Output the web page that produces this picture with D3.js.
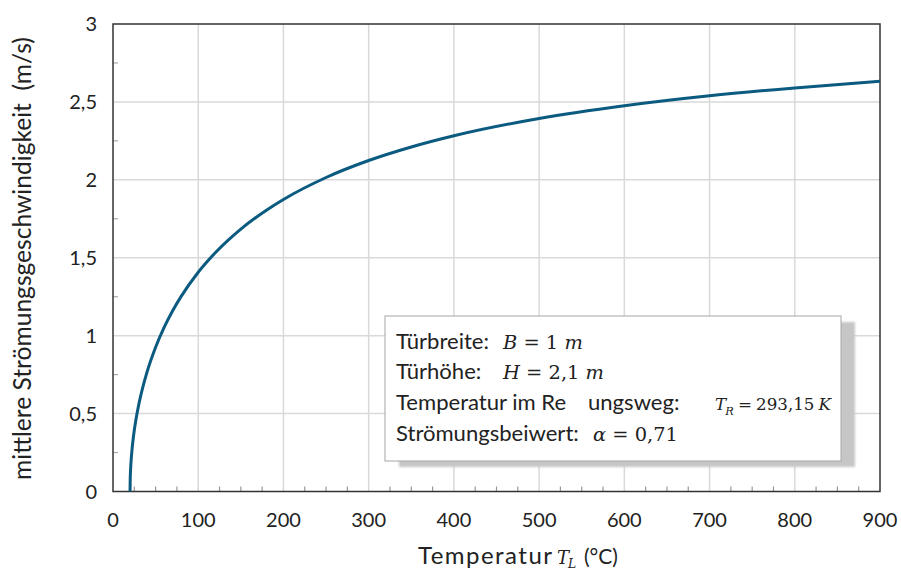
<!DOCTYPE html>
<html><head><meta charset="utf-8">
<script src="https://cdn.jsdelivr.net/npm/d3@7"></script>
<style>body{margin:0;background:#fff}</style>
</head><body>
<svg id="c" width="901" height="572"></svg>
<script>
const temps = [20, 20.2, 20.5, 21, 22, 24, 27, 30, 35, 40, 50, 60, 70, 80, 100, 120, 150, 180, 200, 250, 300, 350, 400, 500, 600, 700, 800, 900];
const speeds = [0, 0.079, 0.125, 0.177, 0.250, 0.353, 0.464, 0.552, 0.670, 0.768, 0.926, 1.053, 1.160, 1.252, 1.407, 1.532, 1.684, 1.805, 1.874, 2.015, 2.124, 2.211, 2.283, 2.394, 2.476, 2.540, 2.590, 2.632];
const xTicks = [0, 100, 200, 300, 400, 500, 600, 700, 800, 900];
const yTicks = [0, 0.5, 1, 1.5, 2, 2.5, 3];
const yTickLabels = ["0", "0,5", "1", "1,5", "2", "2,5", "3"];
const boxLines = ["Türbreite:", "Türhöhe:", "Temperatur im Re", "Strömungsbeiwert:"];

const svg = d3.select("#c");
const L = 113, R = 880, T = 24, B = 491.5;
const x = d3.scaleLinear().domain([0, 900]).range([L, R]);
const y = d3.scaleLinear().domain([0, 3]).range([B, T]);
const font = "Lato, 'Open Sans', sans-serif";
const mfont = "'DejaVu Serif', 'Liberation Serif', serif";

function fitSize(txt, family, style, target) {
  const t = svg.append("text").attr("font-family", family).attr("font-style", style)
    .attr("font-size", 100).attr("xml:space", "preserve").text(txt);
  const w = t.node().getComputedTextLength();
  t.remove();
  return 100 * target / w;
}

// grid
svg.append("g").selectAll("line").data(xTicks.slice(1, -1)).join("line")
  .attr("x1", d => x(d)).attr("x2", d => x(d)).attr("y1", T).attr("y2", B)
  .attr("stroke", "#d9d9d9").attr("stroke-width", 1.5);
svg.append("g").selectAll("line").data(yTicks.slice(1, -1)).join("line")
  .attr("y1", d => y(d)).attr("y2", d => y(d)).attr("x1", L).attr("x2", R)
  .attr("stroke", "#d9d9d9").attr("stroke-width", 1.5);

// minor ticks
const xMinor = d3.range(25, 900, 25).filter(v => v % 100 !== 0);
svg.append("g").selectAll("line").data(xMinor).join("line")
  .attr("x1", d => x(d)).attr("x2", d => x(d)).attr("y1", B).attr("y2", B - 5)
  .attr("stroke", "#999").attr("stroke-width", 1.2);
const yMinor = d3.range(0.25, 3, 0.5);
svg.append("g").selectAll("line").data(yMinor).join("line")
  .attr("y1", d => y(d)).attr("y2", d => y(d)).attr("x1", L).attr("x2", L + 5)
  .attr("stroke", "#aaa").attr("stroke-width", 1.2);

// frame
svg.append("rect").attr("x", L).attr("y", T).attr("width", R - L).attr("height", B - T)
  .attr("fill", "none").attr("stroke", "#333").attr("stroke-width", 1.5);

// tick labels
svg.append("g").selectAll("text").data(xTicks).join("text")
  .attr("x", d => x(d)).attr("y", 527).attr("text-anchor", "middle")
  .attr("font-family", font).attr("font-size", 20).attr("fill", "#222").text(d => d);
svg.append("g").selectAll("text").data(yTicks).join("text")
  .attr("x", 97).attr("y", d => y(d) + 7).attr("text-anchor", "end")
  .attr("font-family", font).attr("font-size", 20).attr("fill", "#222").text((d, i) => yTickLabels[i]);

// curve
const line = d3.line().x((d, i) => x(temps[i])).y(d => y(d)).curve(d3.curveMonotoneX);
svg.append("path").datum(speeds).attr("d", line).attr("fill", "none")
  .attr("stroke", "#0b5a80").attr("stroke-width", 3);

// italic symbol with subscript, as two separate texts
function symSub(xp, yp, main, sub, size, drop) {
  const m = svg.append("text").attr("x", xp).attr("y", yp).attr("font-family", mfont)
    .attr("font-style", "italic").attr("font-size", size).attr("fill", "#222").text(main);
  const w = m.node().getComputedTextLength();
  const s = svg.append("text").attr("x", xp + w - 1).attr("y", yp + drop).attr("font-family", mfont)
    .attr("font-style", "italic").attr("font-size", size * 0.68).attr("fill", "#222").text(sub);
  return xp + w - 1 + s.node().getComputedTextLength();
}

// x axis title
const xtY = 564;
svg.append("text").attr("x", 418).attr("y", xtY).attr("font-family", font)
  .attr("font-size", 24).attr("fill", "#222")
  .attr("textLength", 134).attr("lengthAdjust", "spacing").text("Temperatur");
symSub(557, xtY, "T", "L", 18, 4);
svg.append("text").attr("x", 584).attr("y", xtY).attr("font-family", font)
  .attr("font-size", 21).attr("fill", "#222").text("(°C)");

// y axis title
const yTitle = "mittlere Strömungsgeschwindigkeit  (m/s)";
const ySize = fitSize(yTitle, font, "normal", 443);
svg.append("text").attr("transform", "translate(31,258.5) rotate(-90)").attr("text-anchor", "middle")
  .attr("font-family", font).attr("font-size", ySize).attr("fill", "#222")
  .attr("xml:space", "preserve").text(yTitle);

// info box
const defs = svg.append("defs");
defs.append("filter").attr("id", "bl").append("feGaussianBlur").attr("stdDeviation", 1.2);
const bx = 385, by = 316, bw = 456, bh = 145;
svg.append("rect").attr("x", bx + 14).attr("y", by + 6).attr("width", bw).attr("height", bh)
  .attr("fill", "#c6c6c6").attr("filter", "url(#bl)");
svg.append("rect").attr("x", bx).attr("y", by).attr("width", bw).attr("height", bh)
  .attr("fill", "#fff").attr("stroke", "#a6a6a6").attr("stroke-width", 1);

const boxSize = fitSize("Türbreite:", font, "normal", 93);
const ly = [349, 379, 410, 441];
svg.append("g").selectAll("text").data(boxLines).join("text")
  .attr("x", 396).attr("y", (d, i) => ly[i]).attr("font-family", font).attr("font-size", boxSize)
  .attr("fill", "#222").text(d => d);
svg.append("text").attr("x", 588).attr("y", ly[2]).attr("font-family", font).attr("font-size", boxSize)
  .attr("fill", "#222").text("ungsweg:");

const mSize = fitSize("α = 0,71", mfont, "normal", 85);
function mathText(xp, yp, parts, sz) {
  const t = svg.append("text").attr("x", xp).attr("y", yp).attr("font-family", mfont)
    .attr("font-size", sz).attr("fill", "#222").attr("xml:space", "preserve");
  parts.forEach(p => {
    const s = t.append("tspan").text(p.t);
    if (p.i) s.attr("font-style", "italic");
  });
}
mathText(503, ly[0], [{t: "B", i: 1}, {t: " = 1 "}, {t: "m", i: 1}], mSize);
mathText(503, ly[1], [{t: "H", i: 1}, {t: " = 2,1 "}, {t: "m", i: 1}], mSize);
const tr = mSize * 0.86;
const afterTR = symSub(715, ly[2], "T", "R", tr, 5);
mathText(afterTR, ly[2], [{t: "\u2005=\u2005293,15\u2005"}, {t: "K", i: 1}], tr);
mathText(593, ly[3], [{t: "α", i: 1}, {t: " = 0,71"}], mSize);
</script>
</body></html>
